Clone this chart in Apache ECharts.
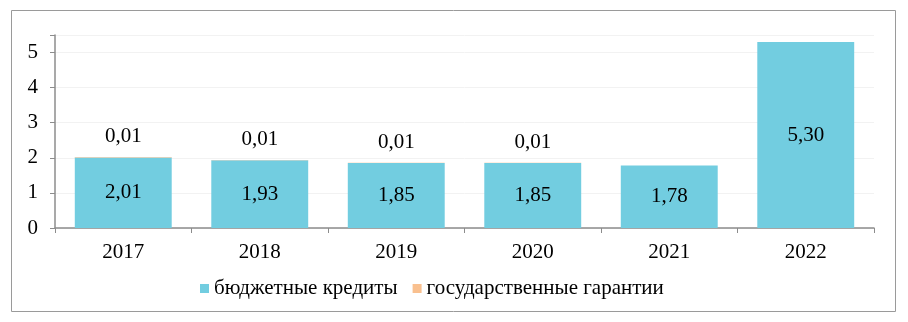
<!DOCTYPE html>
<html>
<head>
    <meta charset="utf-8">
    <title>Бюджетные кредиты и государственные гарантии</title>
    <script src="https://cdn.jsdelivr.net/npm/echarts@6/dist/echarts.min.js"></script>
    <style>
        body { margin: 0; background: #fff; }
    </style>
</head>
<body>
    <div id="chart" style="width: 908px; height: 322px;"></div>

    <script>
    // data
    const years = ['2017', '2018', '2019', '2020', '2021', '2022'];
    const credits = [2.01, 1.93, 1.85, 1.85, 1.78, 5.30];
    const guarantees = [0.01, 0.01, 0.01, 0.01, 0, 0];
    const yTicks = [0, 1, 2, 3, 4, 5];

    const font = "'Liberation Serif', 'Times New Roman', serif";
    const fs = 21;
    const fmt = v => v.toFixed(2).replace('.', ',');

    const chart = echarts.init(document.getElementById('chart'));

    const option = {
        animation: false,
        textStyle: { fontFamily: font },
        graphic: [{
            type: 'rect',
            shape: { x: 11.5, y: 10.5, width: 884, height: 301 },
            style: { fill: 'none', stroke: '#9a9a9a', lineWidth: 1 },
            silent: true
        }],
        grid: {
            left: 55,
            right: 34,
            top: 35,
            bottom: 94
        },
        legend: {
            bottom: 18,
            left: 195,
            itemWidth: 9,
            itemHeight: 9,
            itemGap: 15,
            icon: 'rect',
            textStyle: { fontFamily: font, fontSize: fs, color: '#000' },
            data: ['бюджетные кредиты', 'государственные гарантии']
        },
        xAxis: {
            type: 'category',
            data: years,
            axisLine: { lineStyle: { color: '#8c8c8c', width: 1.5 } },
            axisTick: { show: true, length: 5, lineStyle: { color: '#8c8c8c' } },
            axisLabel: { fontFamily: font, fontSize: fs, color: '#000', margin: 14 }
        },
        yAxis: {
            type: 'value',
            min: yTicks[0],
            max: 5.5,
            interval: 1,
            axisLine: { show: true, lineStyle: { color: '#8c8c8c', width: 1.5 } },
            axisTick: { show: true, length: 5, inside: false, lineStyle: { color: '#8c8c8c' } },
            splitLine: { lineStyle: { color: '#f2f2f2' } },
            axisLabel: {
                fontFamily: font, fontSize: fs, color: '#000', margin: 17,
                formatter: v => (yTicks.indexOf(v) >= 0 ? String(v) : '')
            }
        },
        series: [
            {
                name: 'бюджетные кредиты',
                type: 'bar',
                stack: 'total',
                barCategoryGap: '29%',
                data: credits,
                itemStyle: { color: '#72cde0' },
                label: {
                    show: true,
                    position: 'inside',
                    fontFamily: font,
                    fontSize: fs,
                    color: '#000',
                    formatter: p => fmt(p.value)
                }
            },
            {
                name: 'государственные гарантии',
                type: 'bar',
                stack: 'total',
                data: guarantees,
                itemStyle: { color: '#f9c08f' },
                label: {
                    show: true,
                    position: 'top',
                    distance: 10,
                    fontFamily: font,
                    fontSize: fs,
                    color: '#000',
                    formatter: p => (p.value > 0 ? fmt(p.value) : '')
                }
            }
        ]
    };

    chart.setOption(option);
    </script>
</body>
</html>
